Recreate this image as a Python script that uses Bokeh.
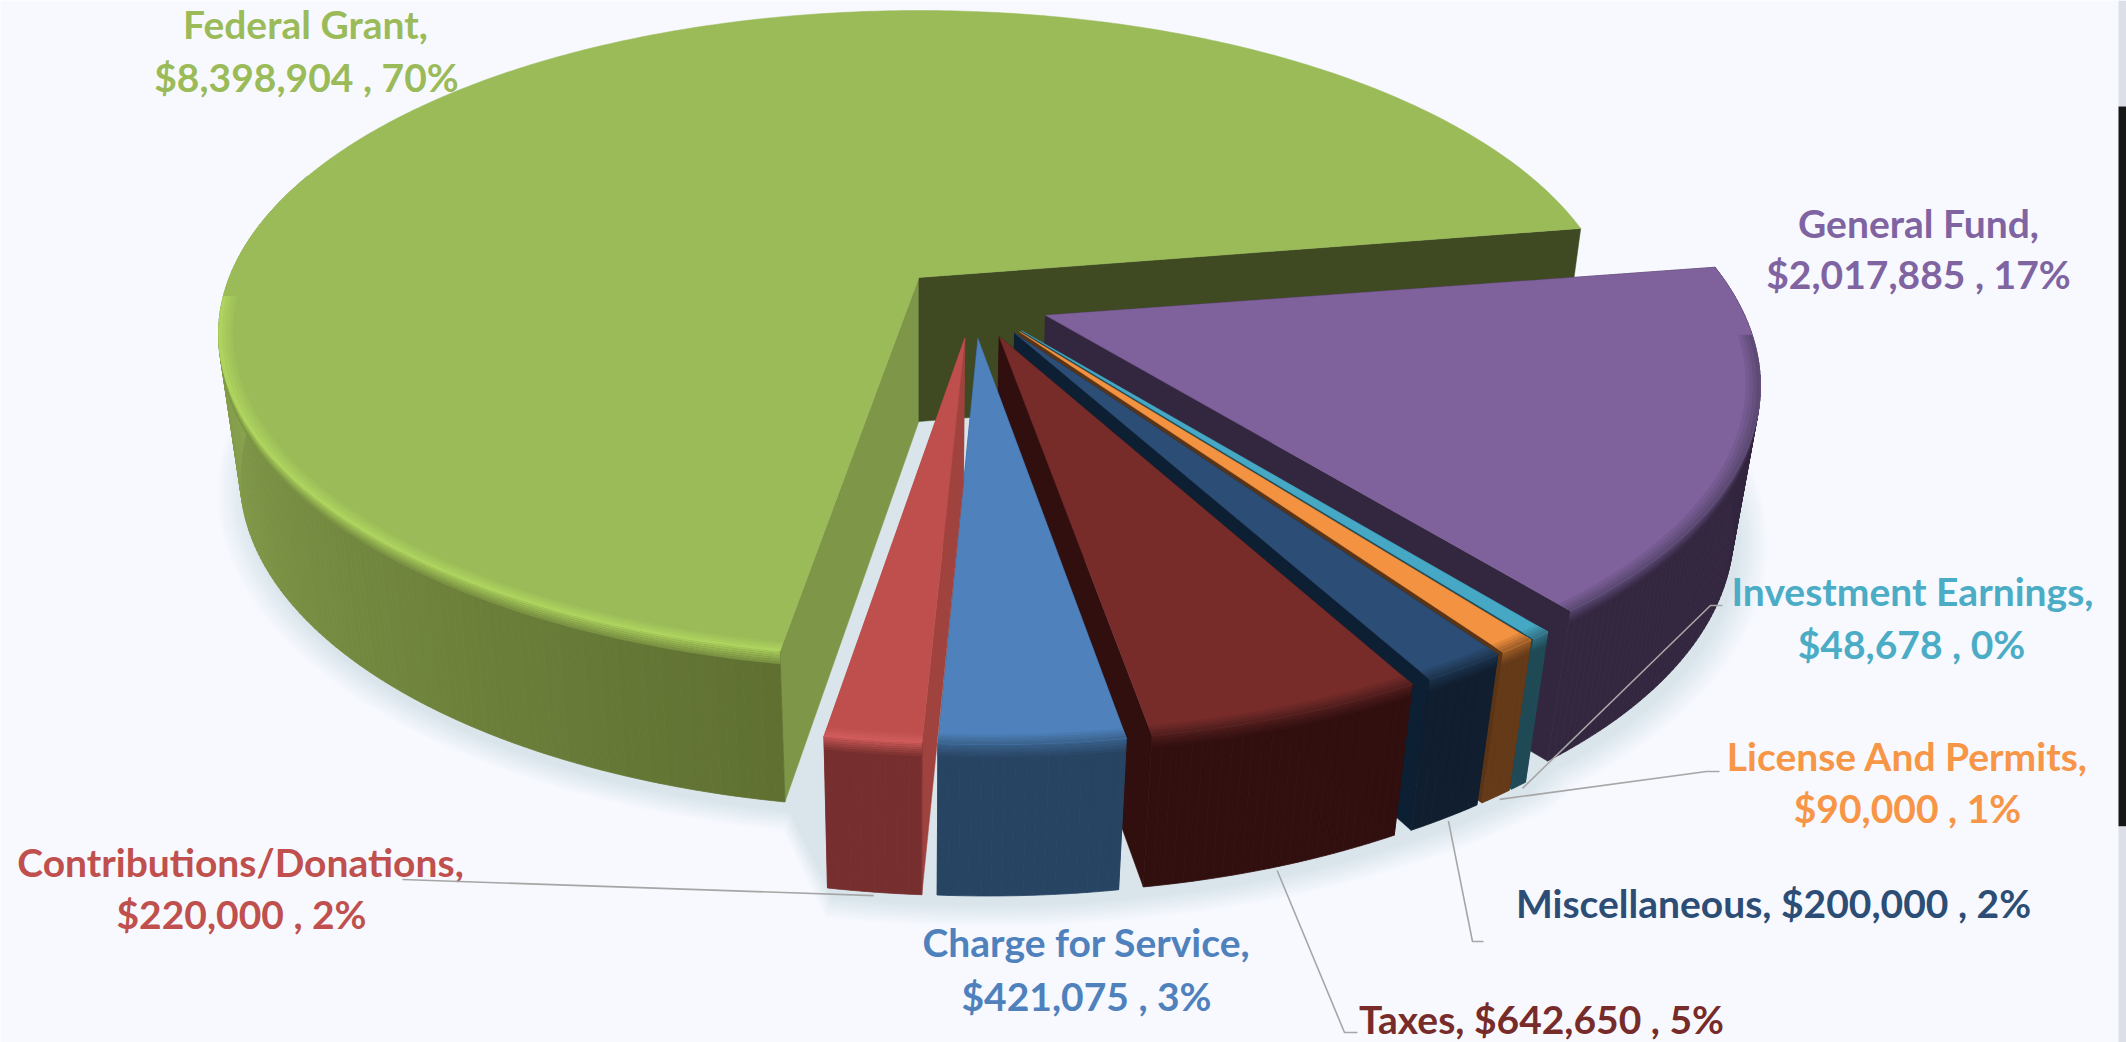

import numpy as np
from bokeh.plotting import figure
from bokeh.embed import file_html
from bokeh.resources import INLINE
from bokeh.core.properties import value

categories = ["Federal Grant", "General Fund", "Investment Earnings", "License And Permits",
              "Miscellaneous", "Taxes", "Charge for Service", "Contributions/Donations"]
amounts = [8398904, 2017885, 48678, 90000, 200000, 642650, 421075, 220000]
percents = ["70%", "17%", "0%", "1%", "2%", "5%", "3%", "2%"]
top_colors = ["#9bbb59", "#7f619b", "#46a8c4", "#f39240", "#2c4d75", "#772c2a", "#4f81bd", "#be4f4d"]
wall_near = ["#5f7031", "#33263f", "#1f4a56", "#653a18", "#101e2f", "#310f0f", "#284463", "#762f2e"]
wall_far = ["#8aa44f", "#33263f", "#1f4a56", "#653a18", "#101e2f", "#310f0f", "#284463", "#762f2e"]
cut_right = ["#7e9647", "#33263f", "#1f4a56", "#653a18", "#101e2f", "#310f0f", "#284463", "#a0433f"]
cut_left = ["#3f4a22", "#33263f", "#1f4a56", "#5a3416", "#0d1f33", "#310f0f", "#284463", "#a0433f"]
rim_colors = ["#aed35e", "#5d4a75", "#35788c", "#a5622a", "#1e3650", "#54201f", "#3c6590", "#cf5c5a"]
label_colors = ["#9bbb59", "#8064a2", "#4bacc6", "#f79646", "#2c4d75", "#772c2a", "#4f81bd", "#c0504d"]

BG = "#f7f9ff"
FONT = "Lato"
FONT_SIZE = "39px"
W, H = 2126, 1042

# camera of the tilted pie, in page pixels
OX, OY = 918.0, 277.0
A, B, P = 689.5, 313.7, 0.175
B2, Q, H3 = 306.0, 0.031, 148.5
CENTER = (0.078, 0.078)
EXPLODE = 0.11
START = 99.6
TURN = 0.5      # small slices sit half a degree further round
RADIUS = 0.993  # and a touch smaller than the big one

def top(x, z):
    d = 1 - P * z
    return OX + A * x / d, OY + B * z / d

def bottom(x, z):
    d = 1 - P * z + Q
    return OX + A * x / d, OY + (B2 * z + H3) / d

def mix(c1, c2, f):
    a = [int(c1[i:i + 2], 16) for i in (1, 3, 5)]
    b = [int(c2[i:i + 2], 16) for i in (1, 3, 5)]
    return "#%02x%02x%02x" % tuple(int(round(u + (v - u) * f)) for u, v in zip(a, b))

p = figure(width=W, height=H, x_range=(0, W), y_range=(H, 0),
           toolbar_location=None, output_backend="svg", background_fill_color=BG,
           border_fill_color=BG, min_border=0, outline_line_color=None)
p.axis.visible = False
p.grid.visible = False

total = float(sum(amounts))
spans = [a / total * 360.0 for a in amounts]
ends = START + np.cumsum(spans)
starts = ends - np.array(spans)
slices = []
for i in range(len(amounts)):
    turn = TURN if i else 0.0
    t0, t1 = starts[i] + turn, ends[i] + turn
    mid = np.radians((t0 + t1) / 2)
    slices.append((i, t0, t1, CENTER[0] + EXPLODE * np.cos(mid), CENTER[1] + EXPLODE * np.sin(mid)))

def rim(s, r=1.0):
    i, t0, t1, ax, az = s
    n = max(6, int((t1 - t0) * 1.5))
    t = np.radians(np.linspace(t0, t1, n))
    r = r * (RADIUS if i else 1.0)
    return t, ax + r * np.cos(t), az + r * np.sin(t)

# soft shadow on the floor: one outline round all the slices
for grow in np.linspace(0.04, 0.0, 10):
    sx, sy = [], []
    for s in slices:
        _, x, z = rim(s, 1 + grow)
        bx, by = bottom(x, z)
        sx.extend(bx)
        sy.extend(by)
    p.patch(np.array(sx) + 5, np.array(sy) + 10, fill_color="#7f8690", fill_alpha=0.021, line_color=None)

for i in range(len(slices)):
    s = slices[i]
    _, t0, t1, ax, az = s
    t, x, z = rim(s)
    # radial cut faces
    for j_end, col in ((0, cut_right[i]), (-1, cut_left[i])):
        rx, rz = x[j_end], z[j_end]
        a1, b1 = top(ax, az)
        a2, b2 = top(rx, rz)
        a3, b3 = bottom(rx, rz)
        a4, b4 = bottom(ax, az)
        p.patch([a1, a2, a3, a4], [b1, b2, b3, b4], fill_color=col, line_color=col, line_width=0.5)
    # outer wall
    tx, ty = top(x, z)
    bx, by = bottom(x, z)
    deg = np.degrees(t)
    vis = (deg < 200) if i == 0 else np.ones_like(t, dtype=bool)
    for j in range(len(t) - 1):
        if not vis[j]:
            continue
        f = np.clip((deg[j] - 99.6) / 80.0, 0, 1) if i == 0 else 0.0
        col = mix(wall_near[i], wall_far[i], f)
        p.patch([tx[j], tx[j + 1], bx[j + 1], bx[j]], [ty[j], ty[j + 1], by[j + 1], by[j]],
                fill_color=col, line_color=col, line_width=0.8)
    # rounded shoulder under the rim
    base = mix(wall_near[i], wall_far[i], 0.5) if i == 0 else wall_near[i]
    for b in range(6):
        frac0, frac1 = b * 0.014, (b + 1) * 0.014
        ux0, uy0 = tx + (bx - tx) * frac0, ty + (by - ty) * frac0
        ux1, uy1 = tx + (bx - tx) * frac1, ty + (by - ty) * frac1
        col = mix(rim_colors[i], base, (b + 1) / 7)
        xs = np.r_[ux0[vis], ux1[vis][::-1]]
        ys = np.r_[uy0[vis], uy1[vis][::-1]]
        p.patch(xs, ys, fill_color=col, line_color=col, line_width=0.3)
    # top face
    ox, oy = top(np.r_[ax, x], np.r_[az, z])
    p.patch(ox, oy, fill_color=top_colors[i], line_color=top_colors[i], line_width=0.5)
    # lit bevel along the rim
    for k in range(4):
        r0 = 0.98 + k * 0.005
        tt, x0, z0 = rim(s, r0)
        tt, x1, z1 = rim(s, 1.0)
        keep = np.sin(tt) > 0.05
        if keep.sum() < 2:
            continue
        ix, iy = top(x0[keep], z0[keep])
        qx, qy = top(x1[keep], z1[keep])
        col = mix(top_colors[i], rim_colors[i], (k + 1) / 4)
        p.patch(np.r_[ix, qx[::-1]], np.r_[iy, qy[::-1]], fill_color=col, line_color=None)

# data labels: two lines where the chart breaks them
label_lines = [
    [("Federal Grant,", 305, 23), ("$8,398,904 , 70%", 306, 76)],
    [("General Fund,", 1918, 222), ("$2,017,885 , 17%", 1918, 273)],
    [("Investment Earnings,", 1912, 590), ("$48,678 , 0%", 1911, 643)],
    [("License And Permits,", 1907, 755), ("$90,000 , 1%", 1907, 807)],
    [("Miscellaneous, $200,000 , 2%", 1773, 902)],
    [("Taxes, $642,650 , 5%", 1541, 1018)],
    [("Charge for Service,", 1086, 941), ("$421,075 , 3%", 1086, 995)],
    [("Contributions/Donations,", 240, 861), ("$220,000 , 2%", 241, 913)],
]
for i, lines in enumerate(label_lines):
    for txt, x, y in lines:
        p.text([x], [y], text=[txt], text_color=label_colors[i], text_font=value(FONT),
               text_font_style="bold", text_font_size=FONT_SIZE, text_align="center",
               text_baseline="middle")

# leader lines from the slice rims to their labels
leader_elbows = {
    2: [(1722, 605), (1710, 605)],
    3: [(1719, 771), (1706, 771)],
    4: [(1483, 941), (1472, 941)],
    5: [(1357, 1032), (1344, 1032)],
    7: [(402, 879)],
}
for i, pts in leader_elbows.items():
    _, t0, t1, ax, az = slices[i]
    mid = np.radians((t0 + t1) / 2)
    ex, ey = bottom(ax + 1.0 * np.cos(mid), az + 1.0 * np.sin(mid))
    p.line([q[0] for q in pts] + [ex], [q[1] for q in pts] + [ey], line_color="#a6a6a6", line_width=1.6)

# the strip at the right edge of the screenshot
p.quad(left=[2118, 2118, 2118], right=[W, W, W], top=[0, 106, 826], bottom=[106, 826, H],
       fill_color=["#dcdfe8", "#171717", "#dcdfe8"], line_color=None)

html = file_html(p, INLINE)
open("out.html", "w").write(html)
